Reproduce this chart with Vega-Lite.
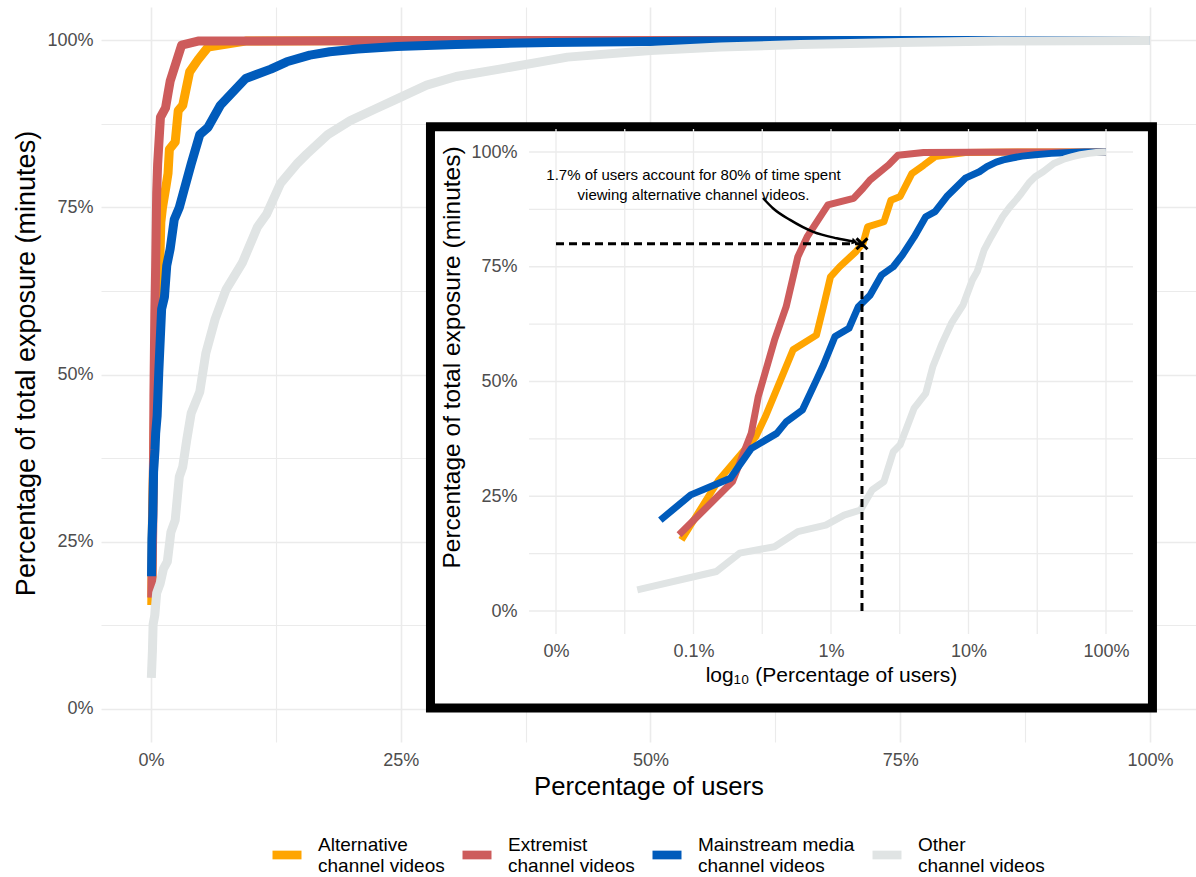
{
  "$schema": "https://vega.github.io/schema/vega-lite/v6.json",
  "width": 1095,
  "height": 735,
  "autosize": {"type": "none"},
  "padding": {"left": 101, "top": 7, "right": 0, "bottom": 135},
  "background": "white",
  "config": {
    "font": "Liberation Sans",
    "view": {"stroke": null},
    "axis": {"labelFont": "Liberation Sans", "titleFont": "Liberation Sans", "labelColor": "#4d4d4d", "titleColor": "black", "titleFontWeight": "normal", "domain": false, "ticks": false, "tickSize": 0, "labelFlush": false, "labelOverlap": false}
  },
  "datasets": {
    "curves": [
      {"s": "Alternative channel videos", "x": 0.000817, "y": 0.155},
      {"s": "Alternative channel videos", "x": 0.001524, "y": 0.285},
      {"s": "Alternative channel videos", "x": 0.002844, "y": 0.38},
      {"s": "Alternative channel videos", "x": 0.003327, "y": 0.423},
      {"s": "Alternative channel videos", "x": 0.005297, "y": 0.569},
      {"s": "Alternative channel videos", "x": 0.007834, "y": 0.601},
      {"s": "Alternative channel videos", "x": 0.00881, "y": 0.663},
      {"s": "Alternative channel videos", "x": 0.00991, "y": 0.728},
      {"s": "Alternative channel videos", "x": 0.01156, "y": 0.75},
      {"s": "Alternative channel videos", "x": 0.0152, "y": 0.783},
      {"s": "Alternative channel videos", "x": 0.0171, "y": 0.801},
      {"s": "Alternative channel videos", "x": 0.01845, "y": 0.837},
      {"s": "Alternative channel videos", "x": 0.02427, "y": 0.848},
      {"s": "Alternative channel videos", "x": 0.02729, "y": 0.895},
      {"s": "Alternative channel videos", "x": 0.03184, "y": 0.903},
      {"s": "Alternative channel videos", "x": 0.03873, "y": 0.953},
      {"s": "Alternative channel videos", "x": 0.0471, "y": 0.971},
      {"s": "Alternative channel videos", "x": 0.05715, "y": 0.99},
      {"s": "Alternative channel videos", "x": 0.0948, "y": 0.999},
      {"s": "Alternative channel videos", "x": 0.3, "y": 1},
      {"s": "Alternative channel videos", "x": 1, "y": 1},
      {"s": "Extremist channel videos", "x": 0.000785, "y": 0.166},
      {"s": "Extremist channel videos", "x": 0.001923, "y": 0.282},
      {"s": "Extremist channel videos", "x": 0.00263, "y": 0.387},
      {"s": "Extremist channel videos", "x": 0.002958, "y": 0.467},
      {"s": "Extremist channel videos", "x": 0.003882, "y": 0.59},
      {"s": "Extremist channel videos", "x": 0.00472, "y": 0.663},
      {"s": "Extremist channel videos", "x": 0.005741, "y": 0.772},
      {"s": "Extremist channel videos", "x": 0.0067, "y": 0.815},
      {"s": "Extremist channel videos", "x": 0.0095, "y": 0.885},
      {"s": "Extremist channel videos", "x": 0.01459, "y": 0.899},
      {"s": "Extremist channel videos", "x": 0.0171, "y": 0.921},
      {"s": "Extremist channel videos", "x": 0.01923, "y": 0.939},
      {"s": "Extremist channel videos", "x": 0.02624, "y": 0.972},
      {"s": "Extremist channel videos", "x": 0.0307, "y": 0.993},
      {"s": "Extremist channel videos", "x": 0.0471, "y": 0.999},
      {"s": "Extremist channel videos", "x": 0.3, "y": 1},
      {"s": "Extremist channel videos", "x": 1, "y": 1},
      {"s": "Mainstream media channel videos", "x": 0.000574, "y": 0.198},
      {"s": "Mainstream media channel videos", "x": 0.000955, "y": 0.253},
      {"s": "Mainstream media channel videos", "x": 0.001854, "y": 0.289},
      {"s": "Mainstream media channel videos", "x": 0.00263, "y": 0.354},
      {"s": "Mainstream media channel videos", "x": 0.004036, "y": 0.387},
      {"s": "Mainstream media channel videos", "x": 0.00472, "y": 0.412},
      {"s": "Mainstream media channel videos", "x": 0.006194, "y": 0.438},
      {"s": "Mainstream media channel videos", "x": 0.007834, "y": 0.503},
      {"s": "Mainstream media channel videos", "x": 0.00881, "y": 0.536},
      {"s": "Mainstream media channel videos", "x": 0.01069, "y": 0.598},
      {"s": "Mainstream media channel videos", "x": 0.01352, "y": 0.616},
      {"s": "Mainstream media channel videos", "x": 0.01581, "y": 0.663},
      {"s": "Mainstream media channel videos", "x": 0.01923, "y": 0.688},
      {"s": "Mainstream media channel videos", "x": 0.02333, "y": 0.732},
      {"s": "Mainstream media channel videos", "x": 0.02838, "y": 0.75},
      {"s": "Mainstream media channel videos", "x": 0.03311, "y": 0.776},
      {"s": "Mainstream media channel videos", "x": 0.04027, "y": 0.815},
      {"s": "Mainstream media channel videos", "x": 0.04887, "y": 0.859},
      {"s": "Mainstream media channel videos", "x": 0.05715, "y": 0.87},
      {"s": "Mainstream media channel videos", "x": 0.0695, "y": 0.903},
      {"s": "Mainstream media channel videos", "x": 0.0948, "y": 0.943},
      {"s": "Mainstream media channel videos", "x": 0.12, "y": 0.957},
      {"s": "Mainstream media channel videos", "x": 0.136, "y": 0.968},
      {"s": "Mainstream media channel videos", "x": 0.159, "y": 0.978},
      {"s": "Mainstream media channel videos", "x": 0.179, "y": 0.983},
      {"s": "Mainstream media channel videos", "x": 0.207, "y": 0.987},
      {"s": "Mainstream media channel videos", "x": 0.246, "y": 0.991},
      {"s": "Mainstream media channel videos", "x": 0.305, "y": 0.994},
      {"s": "Mainstream media channel videos", "x": 0.4, "y": 0.997},
      {"s": "Mainstream media channel videos", "x": 0.55, "y": 0.999},
      {"s": "Mainstream media channel videos", "x": 0.7, "y": 1},
      {"s": "Mainstream media channel videos", "x": 1, "y": 1},
      {"s": "Other channel videos", "x": 0.00039, "y": 0.046},
      {"s": "Other channel videos", "x": 0.001466, "y": 0.086},
      {"s": "Other channel videos", "x": 0.002163, "y": 0.126},
      {"s": "Other channel videos", "x": 0.003882, "y": 0.14},
      {"s": "Other channel videos", "x": 0.005741, "y": 0.173},
      {"s": "Other channel videos", "x": 0.00916, "y": 0.187},
      {"s": "Other channel videos", "x": 0.01247, "y": 0.209},
      {"s": "Other channel videos", "x": 0.0164, "y": 0.22},
      {"s": "Other channel videos", "x": 0.01995, "y": 0.264},
      {"s": "Other channel videos", "x": 0.02427, "y": 0.282},
      {"s": "Other channel videos", "x": 0.02838, "y": 0.347},
      {"s": "Other channel videos", "x": 0.03184, "y": 0.362},
      {"s": "Other channel videos", "x": 0.03581, "y": 0.402},
      {"s": "Other channel videos", "x": 0.04027, "y": 0.442},
      {"s": "Other channel videos", "x": 0.04887, "y": 0.474},
      {"s": "Other channel videos", "x": 0.05495, "y": 0.532},
      {"s": "Other channel videos", "x": 0.06427, "y": 0.583},
      {"s": "Other channel videos", "x": 0.07516, "y": 0.627},
      {"s": "Other channel videos", "x": 0.09141, "y": 0.667},
      {"s": "Other channel videos", "x": 0.1067, "y": 0.721},
      {"s": "Other channel videos", "x": 0.1158, "y": 0.74},
      {"s": "Other channel videos", "x": 0.1297, "y": 0.786},
      {"s": "Other channel videos", "x": 0.1459, "y": 0.815},
      {"s": "Other channel videos", "x": 0.156, "y": 0.83},
      {"s": "Other channel videos", "x": 0.177, "y": 0.859},
      {"s": "Other channel videos", "x": 0.1995, "y": 0.88},
      {"s": "Other channel videos", "x": 0.2239, "y": 0.897},
      {"s": "Other channel videos", "x": 0.2426, "y": 0.91},
      {"s": "Other channel videos", "x": 0.276, "y": 0.933},
      {"s": "Other channel videos", "x": 0.3055, "y": 0.946},
      {"s": "Other channel videos", "x": 0.349, "y": 0.957},
      {"s": "Other channel videos", "x": 0.417, "y": 0.975},
      {"s": "Other channel videos", "x": 0.5, "y": 0.985},
      {"s": "Other channel videos", "x": 0.57, "y": 0.99},
      {"s": "Other channel videos", "x": 0.65, "y": 0.994},
      {"s": "Other channel videos", "x": 0.75, "y": 0.997},
      {"s": "Other channel videos", "x": 0.85, "y": 0.999},
      {"s": "Other channel videos", "x": 1, "y": 1}
    ],
    "vgrid": [{"v": 0.0001}, {"v": 0.00031623}, {"v": 0.001}, {"v": 0.0031623}, {"v": 0.01}, {"v": 0.031623}, {"v": 0.1}, {"v": 0.31623}, {"v": 1}],
    "hgrid": [{"v": 0}, {"v": 0.125}, {"v": 0.25}, {"v": 0.375}, {"v": 0.5}, {"v": 0.625}, {"v": 0.75}, {"v": 0.875}, {"v": 1}],
    "arrow": [
      {"o": 0, "x": 0.0032, "y": 0.8998},
      {"o": 1, "x": 0.0038, "y": 0.877},
      {"o": 2, "x": 0.00504, "y": 0.852},
      {"o": 3, "x": 0.00743, "y": 0.826},
      {"o": 4, "x": 0.011, "y": 0.812},
      {"o": 5, "x": 0.01494, "y": 0.8044}
    ],
    "guides": [
      {"x": 0.0001, "x2": 0.0168, "y": 0.8, "y2": 0.8},
      {"x": 0.0168, "x2": 0.0168, "y": 0, "y2": 0.8}
    ],
    "marker": [{"x": 0.0168, "y": 0.8}],
    "head": [{"x": 0.0149, "y": 0.8045}],
    "note": [{"x": 0.001, "y": 0.95, "t": ["1.7% of users account for 80% of time spent", "viewing alternative channel videos."]}],
    "box": [{"x1": 0.2798, "x2": 1.0025, "y1": 0.0008, "y2": 0.8707}]
  },
  "layer": [
    {
      "layer": [
        {
          "data": {"name": "curves"},
          "mark": {"type": "line", "strokeWidth": 9, "strokeCap": "butt", "strokeJoin": "round"},
          "encoding": {
            "x": {"field": "x", "type": "quantitative",
              "scale": {"domain": [-0.05, 1.0461], "nice": false, "zero": false},
              "axis": {"values": [0, 0.125, 0.25, 0.375, 0.5, 0.625, 0.75, 0.875, 1],
                "labelExpr": "abs(datum.value*4 - round(datum.value*4)) < 0.001 ? format(datum.value, '.0%') : ''",
                "grid": true, "gridColor": "#ebebeb",
                "gridWidth": {"condition": {"test": "abs(datum.value*4 - round(datum.value*4)) < 0.001", "value": 1.6}, "value": 1.1},
                "labelFontSize": 18, "labelPadding": 9,
                "title": "Percentage of users", "titleFontSize": 25.7, "titlePadding": 5}},
            "y": {"field": "y", "type": "quantitative",
              "scale": {"domain": [-0.05, 1.05], "nice": false, "zero": false},
              "axis": {"values": [0, 0.125, 0.25, 0.375, 0.5, 0.625, 0.75, 0.875, 1],
                "labelExpr": "abs(datum.value*4 - round(datum.value*4)) < 0.001 ? format(datum.value, '.0%') : ''",
                "grid": true, "gridColor": "#ebebeb",
                "gridWidth": {"condition": {"test": "abs(datum.value*4 - round(datum.value*4)) < 0.001", "value": 1.6}, "value": 1.1},
                "labelFontSize": 18, "labelPadding": 8,
                "title": "Percentage of total exposure (minutes)", "titleFontSize": 27, "titlePadding": 6, "titleY": 356}},
            "color": {"field": "s", "type": "nominal",
              "scale": {"domain": ["Alternative channel videos", "Extremist channel videos", "Mainstream media channel videos", "Other channel videos"],
                "range": ["#FFA500", "#CD5C5C", "#005BBB", "#E0E4E4"]},
              "legend": {"orient": "none", "legendX": 167, "legendY": 829, "direction": "horizontal", "title": null,
                "symbolType": "stroke", "symbolSize": 841, "symbolStrokeWidth": 8.7,
                "labelFontSize": 19, "labelColor": "black", "labelFont": "Liberation Sans", "labelOffset": 12,
                "labelBaseline": "bottom", "gridAlign": "none",
                "columnPadding": 0, "labelLimit": 300, "padding": 0,
                "labelExpr": "[replace(datum.label, ' channel videos', ''), 'channel videos']"}}
          }
        },
        {
          "data": {"name": "box"},
          "mark": {"type": "rect", "fill": "white", "stroke": "black", "strokeWidth": 9},
          "encoding": {
            "x": {"field": "x1", "type": "quantitative"},
            "x2": {"field": "x2"},
            "y": {"field": "y1", "type": "quantitative"},
            "y2": {"field": "y2"}
          }
        }
      ]
    },
    {
      "layer": [
        {
          "data": {"name": "vgrid"},
          "mark": {"type": "rule", "color": "#ebebeb", "strokeWidth": 1.3},
          "encoding": {
            "x": {"field": "v", "type": "quantitative",
              "scale": {"type": "log", "domain": [0.0001, 1], "range": [455, 1005], "nice": false},
              "axis": {"orient": "bottom", "offset": -108, "values": [0.0001, 0.001, 0.01, 0.1, 1], "format": ".1~%",
                "grid": false, "labelFontSize": 18, "labelPadding": 8, "zindex": 1,
                "title": "log₁₀ (Percentage of users)", "titleFontSize": 21, "titlePadding": 4}},
            "y": {"datum": -0.05, "type": "quantitative",
              "scale": {"domain": [0, 1], "range": [604, 145], "nice": false, "zero": false},
              "axis": {"orient": "left", "offset": -418, "values": [0, 0.25, 0.5, 0.75, 1], "format": ".0%",
                "grid": false, "labelFontSize": 18, "labelPadding": 2, "zindex": 1,
                "title": "Percentage of total exposure (minutes)", "titleFontSize": 24.5, "titlePadding": 6, "titleY": 350}},
            "y2": {"datum": 1.05}
          }
        },
        {
          "data": {"name": "hgrid"},
          "mark": {"type": "rule", "color": "#ebebeb", "strokeWidth": 1.3},
          "encoding": {
            "y": {"field": "v", "type": "quantitative"},
            "x": {"datum": 0.0000637, "type": "quantitative"},
            "x2": {"datum": 1.5704}
          }
        },
        {
          "data": {"name": "curves"},
          "mark": {"type": "line", "strokeWidth": 7, "strokeCap": "butt", "strokeJoin": "round"},
          "encoding": {
            "x": {"field": "x", "type": "quantitative"},
            "y": {"field": "y", "type": "quantitative"},
            "color": {"field": "s", "type": "nominal"}
          }
        },
        {
          "data": {"name": "guides"},
          "mark": {"type": "rule", "color": "black", "strokeWidth": 3, "strokeDash": [8, 5]},
          "encoding": {
            "x": {"field": "x", "type": "quantitative"},
            "x2": {"field": "x2"},
            "y": {"field": "y", "type": "quantitative"},
            "y2": {"field": "y2"}
          }
        },
        {
          "data": {"name": "arrow"},
          "mark": {"type": "line", "color": "black", "strokeWidth": 2.5, "interpolate": "monotone"},
          "encoding": {
            "x": {"field": "x", "type": "quantitative"},
            "y": {"field": "y", "type": "quantitative"},
            "order": {"field": "o"}
          }
        },
        {
          "data": {"name": "head"},
          "mark": {"type": "point", "shape": "triangle-right", "filled": true, "color": "black", "size": 45, "angle": 13, "opacity": 1},
          "encoding": {
            "x": {"field": "x", "type": "quantitative"},
            "y": {"field": "y", "type": "quantitative"}
          }
        },
        {
          "data": {"name": "marker"},
          "mark": {"type": "point", "shape": "M-1,-1L1,1M-1,1L1,-1", "filled": false, "stroke": "black", "strokeWidth": 3, "size": 120, "opacity": 1},
          "encoding": {
            "x": {"field": "x", "type": "quantitative"},
            "y": {"field": "y", "type": "quantitative"}
          }
        },
        {
          "data": {"name": "note"},
          "mark": {"type": "text", "fontSize": 15, "font": "Liberation Sans", "color": "black", "align": "center", "baseline": "middle", "lineHeight": 20},
          "encoding": {
            "x": {"field": "x", "type": "quantitative"},
            "y": {"field": "y", "type": "quantitative"},
            "text": {"field": "t"}
          }
        }
      ]
    }
  ],
  "resolve": {"scale": {"x": "independent", "y": "independent"}, "axis": {"x": "independent", "y": "independent"}}
}
